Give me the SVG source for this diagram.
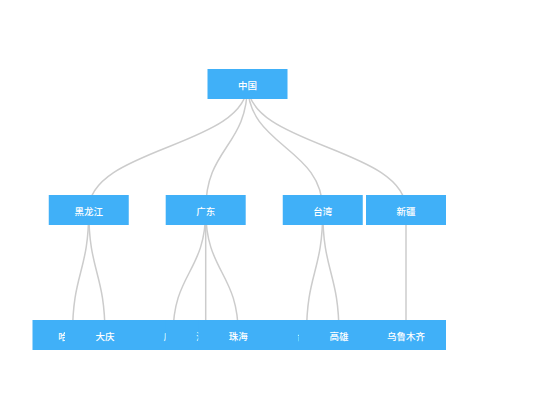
<svg xmlns="http://www.w3.org/2000/svg" width="550" height="420" viewBox="0 0 550 420">
<style>
.edge{fill:none;stroke:#cccccc;stroke-width:1.5}
.node rect{fill:#40b0f8}
.node text{fill:#ffffff;font-family:"Noto Sans CJK SC","Noto Sans",sans-serif;font-size:9.5px;font-weight:500;text-anchor:middle;dominant-baseline:central}
</style>
<rect width="550" height="420" fill="#ffffff"/>
<g id="connectors">
<path class="edge" d="M247.5 84C247.5 147 88.75 147 88.75 210"/>
<path class="edge" d="M247.5 84C247.5 147 205.7 147 205.7 210"/>
<path class="edge" d="M247.5 84C247.5 147 322.75 147 322.75 210"/>
<path class="edge" d="M247.5 84C247.5 147 406 147 406 210"/>
<path class="edge" d="M88.75 210C88.75 272.5 72.5 272.5 72.5 335"/>
<path class="edge" d="M88.75 210C88.75 272.5 105 272.5 105 335"/>
<path class="edge" d="M205.7 210C205.7 272.5 173 272.5 173 335"/>
<path class="edge" d="M205.7 210C205.7 272.5 205.7 272.5 205.7 335"/>
<path class="edge" d="M205.7 210C205.7 272.5 238.3 272.5 238.3 335"/>
<path class="edge" d="M322.75 210C322.75 272.5 306.5 272.5 306.5 335"/>
<path class="edge" d="M322.75 210C322.75 272.5 339 272.5 339 335"/>
<path class="edge" d="M406 210C406 272.5 406 272.5 406 335"/>
</g>
<g id="n-zhongguo" class="node"><rect x="207.5" y="69" width="80" height="30"/><text x="247.5" y="84.5">中国</text></g>
<g id="n-heilongjiang" class="node"><rect x="48.75" y="195" width="80" height="30"/><text x="88.75" y="210.5">黑龙江</text></g>
<g id="n-guangdong" class="node"><rect x="165.7" y="195" width="80" height="30"/><text x="205.7" y="210.5">广东</text></g>
<g id="n-taiwan" class="node"><rect x="282.75" y="195" width="80" height="30"/><text x="322.75" y="210.5">台湾</text></g>
<g id="n-xinjiang" class="node"><rect x="366" y="195" width="80" height="30"/><text x="406" y="210.5">新疆</text></g>
<g id="n-haerbin" class="node"><rect x="32.5" y="320" width="80" height="30"/><text x="72.5" y="335.5">哈尔滨</text></g>
<g id="n-daqing" class="node"><rect x="65" y="320" width="80" height="30"/><text x="105" y="335.5">大庆</text></g>
<g id="n-guangzhou" class="node"><rect x="133" y="320" width="80" height="30"/><text x="173" y="335.5">广州</text></g>
<g id="n-shenzhen" class="node"><rect x="165.7" y="320" width="80" height="30"/><text x="205.7" y="335.5">深圳</text></g>
<g id="n-zhuhai" class="node"><rect x="198.3" y="320" width="80" height="30"/><text x="238.3" y="335.5">珠海</text></g>
<g id="n-taibei" class="node"><rect x="266.5" y="320" width="80" height="30"/><text x="306.5" y="335.5">台北</text></g>
<g id="n-gaoxiong" class="node"><rect x="299" y="320" width="80" height="30"/><text x="339" y="335.5">高雄</text></g>
<g id="n-wulumuqi" class="node"><rect x="366" y="320" width="80" height="30"/><text x="406" y="335.5">乌鲁木齐</text></g>
</svg>
